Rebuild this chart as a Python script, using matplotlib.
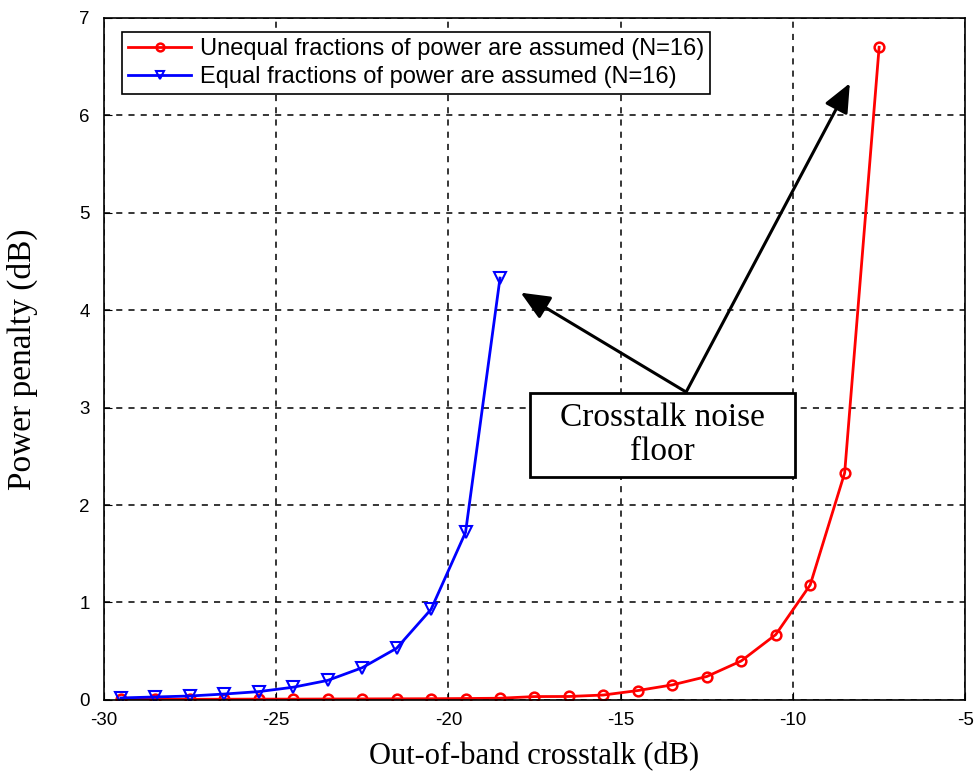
import numpy as np
import matplotlib.pyplot as plt
from matplotlib.patches import Rectangle

plt.rcParams['axes.unicode_minus'] = False

# out-of-band crosstalk (dB)
x_unequal = [-29.5, -28.5, -27.5, -26.5, -25.5, -24.5, -23.5, -22.5, -21.5, -20.5,
             -19.5, -18.5, -17.5, -16.5, -15.5, -14.5, -13.5, -12.5, -11.5, -10.5,
             -9.5, -8.5, -7.5]
pp_unequal = [0.005, 0.006, 0.006, 0.007, 0.008, 0.008, 0.009, 0.010, 0.011, 0.012,
              0.014, 0.017, 0.034, 0.035, 0.05, 0.096, 0.154, 0.24, 0.40, 0.67,
              1.18, 2.33, 6.7]

x_equal = [-29.5, -28.5, -27.5, -26.5, -25.5, -24.5, -23.5, -22.5, -21.5, -20.5,
           -19.5, -18.5]
pp_equal = [0.02, 0.03, 0.04, 0.06, 0.085, 0.13, 0.2, 0.33, 0.53, 0.93, 1.72, 4.33]

labels = ['Unequal fractions of power are assumed (N=16)',
          'Equal fractions of power are assumed (N=16)']

fig = plt.figure(figsize=(9.78, 7.82), dpi=100)
ax = fig.add_axes([0.106, 0.105, 0.881, 0.872])

ax.plot(x_unequal, pp_unequal, color='red', lw=2, marker='o', ms=7,
        mfc='none', mew=1.8, label=labels[0])
ax.plot(x_equal, pp_equal, color='blue', lw=2, marker='v', ms=8,
        mfc='none', mew=1.5, label=labels[1])

ax.set_xlim(-30, -5)
ax.set_ylim(0, 7)
ax.set_xticks(np.arange(-30, -4, 5))
ax.set_yticks(np.arange(0, 8, 1))
ax.grid(True, color='black', linestyle=(0, (4, 4)), linewidth=1.1)
ax.tick_params(direction='in', length=6, labelsize=13.5)
ax.tick_params(axis='x', pad=9)
ax.tick_params(axis='y', pad=10)
for lab in ax.get_xticklabels() + ax.get_yticklabels():
    lab.set_family('Liberation Sans')
for s in ax.spines.values():
    s.set_linewidth(1.2)

ax.set_xlabel('Out-of-band crosstalk (dB)', family='Liberation Serif', fontsize=22)
ax.set_ylabel('Power penalty (dB)', family='Liberation Serif', fontsize=24)
ax.xaxis.set_label_coords(0.5, -0.062)
ax.yaxis.set_label_coords(-0.076, 0.5)

leg = ax.legend(loc='upper left', bbox_to_anchor=(0.021, 0.979),
                prop={'family': 'Liberation Sans', 'size': 17},
                fancybox=False, framealpha=1, edgecolor='black',
                borderaxespad=0, borderpad=0.25, handlelength=2.7,
                handletextpad=0.35, labelspacing=0.25, markerscale=0.8)
leg.get_frame().set_linewidth(1.2)

# annotation box with two arrows
ax.add_patch(Rectangle((-17.63, 2.29), 7.69, 0.86, fc='white', ec='black',
                       lw=2, zorder=5))
ax.text(-13.78, 2.72, 'Crosstalk noise\nfloor', family='Liberation Serif',
        fontsize=24, ha='center', va='center', linespacing=1.15, zorder=6)
for tip in [(-17.9, 4.18), (-8.35, 6.33)]:
    ax.annotate('', xy=tip, xytext=(-13.1, 3.16),
                arrowprops=dict(arrowstyle='-|>,head_length=0.8,head_width=0.35',
                                color='black', lw=2.2, mutation_scale=22,
                                shrinkA=0, shrinkB=0), zorder=6)

fig.savefig('out.png', dpi=100)
